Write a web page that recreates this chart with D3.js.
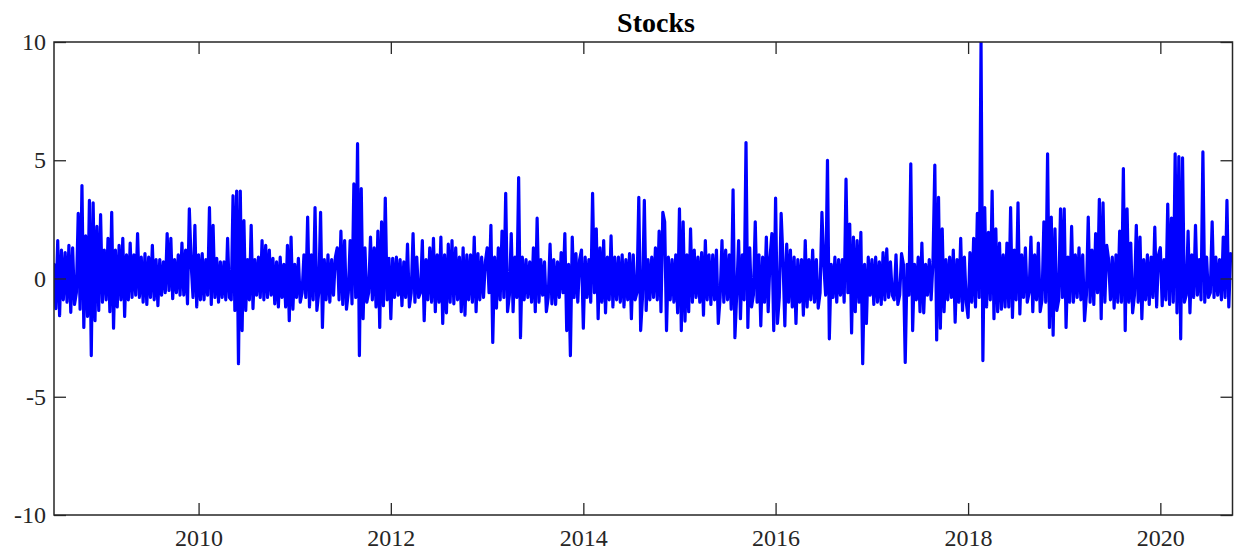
<!DOCTYPE html>
<html>
<head>
<meta charset="utf-8">
<script src="https://cdn.jsdelivr.net/npm/d3@7"></script>
<style>
  html, body { margin: 0; padding: 0; background: #ffffff; }
  svg { display: block; }
  .axis text { font-family: "Liberation Serif", "Times New Roman", serif; font-size: 24px; fill: #262626; }
  .axis line { stroke: #262626; stroke-width: 1.3; }
  .axis path { display: none; }
</style>
</head>
<body>
<svg id="chart" width="1239" height="556"></svg>
<script>
// Weekly stock returns (%), one array per calendar year.
// 2008 covers July–December, 2020 covers January–September.
const ret2008 = [0.6,-1.27,1.6,-1.57,1.2,-0.9,1.1,-1.0,1.4,-1.43,1.3,-1.1,-0.6,2.75,-1.3,3.93,-2.07,1.8,-1.6,3.3,-3.26,3.2,-1.78,2.2,-1.35,2.7];
const ret2009 = [-1.0,1.2,-0.9,1.7,-1.4,2.8,-2.1,1.2,-1.2,1.4,-0.9,1.7,-1.6,1.0,-0.9,1.5,-0.8,1.0,-0.7,1.9,-0.8,0.9,-1.0,1.05,-1.1,0.9,-0.8,1.4,-0.9,0.8,-1.15,0.8,-0.7,0.7,-0.6,1.9,-0.5,1.7,-0.85,0.8,-0.6,1.0,-0.7,1.5,-0.7,1.2,-1.07,2.95,0.6,-0.8,2.25,-1.2];
const ret2010 = [1.0,-0.9,1.05,-0.9,0.8,-0.7,3.0,-1.1,2.25,-0.8,0.85,-1.0,0.7,-0.8,0.7,-0.9,1.7,-0.8,-0.9,3.5,-1.35,3.7,-3.6,3.7,-2.2,2.45,-1.35,0.8,-0.9,2.25,-1.27,0.8,-0.7,0.9,-0.8,1.6,-0.9,1.4,-0.8,1.2,-0.7,0.85,-1.07,0.7,-1.2,0.9,-0.8,0.6,-1.2,1.4,-1.78,1.75,-1.3];
const ret2011 = [0.6,-0.8,0.85,-1.0,-0.6,1.0,-0.8,2.6,-1.2,1.0,-0.9,3.0,-1.35,-0.6,2.8,-2.07,0.8,-0.9,1.0,-1.0,0.8,-0.7,0.9,1.3,-0.9,2.0,-1.1,1.6,-1.3,-0.6,1.6,-1.07,4.0,-0.8,5.7,-3.26,3.8,-1.7,1.3,-1.0,-0.6,1.75,-0.9,1.3,-1.2,2.0,-2.07,2.4,-1.15,3.4,-0.9,0.85];
const ret2012 = [-1.7,0.85,-0.8,0.9,-0.7,0.8,-1.15,0.7,-0.8,1.45,-1.2,-0.6,1.9,-1.0,0.9,-0.8,-0.6,1.6,-1.78,0.8,-0.9,1.3,-1.0,1.7,-1.4,1.0,-1.0,1.75,-1.9,1.0,-1.45,1.45,-1.0,1.6,-1.07,1.3,-0.9,0.9,-1.4,1.3,-1.55,1.0,-0.9,1.0,-1.0,1.75,-1.4,1.05,-0.9,0.9,-0.8,0.7];
const ret2013 = [1.3,-0.6,2.25,-2.7,0.9,-1.25,1.3,-0.9,2.0,-0.8,3.6,-1.4,-0.7,1.9,-1.4,0.9,-0.8,4.27,-2.5,0.9,-0.9,0.8,-0.8,0.7,-1.0,1.3,-1.4,2.55,-1.0,0.8,-0.7,0.7,-1.4,-0.8,1.45,-1.07,0.8,-1.1,0.7,-0.8,1.1,-0.6,1.9,-2.2,0.6,-3.26,1.75,-0.8,1.05,-1.0,0.8,1.2];
const ret2014 = [-2.1,0.9,-0.8,0.8,-1.0,3.6,-0.6,2.1,-1.7,1.3,-1.0,1.6,-1.45,0.9,-0.9,1.8,-1.2,0.9,-0.9,0.9,-1.0,1.0,-1.2,0.8,-0.9,1.05,-1.7,1.0,-0.9,-0.6,3.43,-2.2,-0.8,3.3,-1.35,0.8,-0.9,0.9,-0.8,1.3,-0.9,2.0,-1.4,2.8,2.4,-2.2,0.9,-0.9,0.8,-1.0,1.0,-1.45];
const ret2015 = [2.95,-2.2,2.4,-1.8,1.0,-1.4,2.1,-1.0,1.2,-0.8,0.9,-1.0,1.1,-1.55,1.6,-0.9,1.0,-1.1,1.0,-0.9,1.2,-1.9,-0.8,1.6,-1.0,1.2,-0.9,1.0,-1.3,3.75,-2.5,-0.6,1.6,-1.7,1.0,-0.9,5.75,-2.07,1.3,-1.2,-0.7,2.4,-1.0,1.0,-2.0,0.9,-1.0,1.75,-1.4,0.9,1.9,-2.2];
const ret2016 = [3.4,-1.9,-0.8,2.75,0.8,-2.0,1.45,-1.0,1.2,-1.2,0.9,-1.9,0.8,-1.0,0.8,-1.55,1.6,-1.2,0.8,-0.9,1.2,-1.0,0.8,-1.25,-0.6,2.8,0.6,-0.7,5.0,-2.55,0.6,-0.8,0.9,-1.0,0.8,-0.7,0.8,-1.0,4.2,-0.6,2.3,-2.3,1.75,-1.4,1.6,-1.0,1.95,-3.6,0.6,-1.9,0.9,-0.7];
const ret2017 = [0.8,-1.1,0.9,-1.0,0.7,-1.1,1.1,-0.9,1.25,-0.8,0.7,-0.7,-0.9,1.0,-1.1,-0.7,1.05,0.6,-3.55,0.6,-0.7,4.85,-2.2,0.6,-0.9,0.9,-1.4,1.5,-1.45,0.6,-0.7,0.8,-0.9,0.7,4.8,-2.6,3.43,-2.1,2.1,-1.4,0.8,-0.9,0.9,-0.8,1.2,-1.85,0.8,-1.0,1.7,-1.35,0.9,-1.0];
const ret2018 = [-1.65,1.1,-1.0,1.7,-1.2,2.75,-0.8,10.0,-3.47,3.0,-1.2,1.95,-0.9,3.7,-1.7,2.1,-1.4,1.5,-1.3,1.0,-1.2,1.5,-1.2,3.0,-1.65,1.2,-0.9,3.2,-1.5,1.0,-0.8,1.3,-1.0,-0.6,1.75,-1.4,1.0,-0.9,1.5,-1.4,-0.9,2.4,-1.0,5.27,-2.07,2.6,-2.4,2.1,-1.35,-0.9,2.95,-0.8];
const ret2019 = [2.95,-2.07,0.9,-1.0,2.2,-1.0,1.0,-0.8,1.3,-0.9,1.0,-1.78,-0.7,2.6,-1.0,1.2,-1.1,1.9,-0.6,3.35,-1.7,3.2,-1.0,1.4,0.8,-0.9,0.9,-1.25,1.0,-1.0,2.0,-1.0,4.65,-2.2,2.95,-1.0,1.5,-1.45,-0.7,2.25,-1.0,1.75,-1.7,0.8,-0.9,1.0,-1.1,0.9,-0.8,2.17,-1.2,1.0];
const ret2020 = [1.3,-1.15,0.8,-0.9,3.15,-1.1,2.55,-1.0,5.27,-1.45,5.15,-2.55,5.1,-1.0,-0.7,2.0,-1.45,1.0,-0.8,2.25,-0.7,0.8,-0.9,5.35,-1.0,0.9,-0.8,-0.6,2.4,-0.8,0.9,-0.7,0.8,-0.9,1.75,-0.8,3.3,-1.2,1.05];

const yearly = [
  { year: 2008, values: ret2008 }, { year: 2009, values: ret2009 },
  { year: 2010, values: ret2010 }, { year: 2011, values: ret2011 },
  { year: 2012, values: ret2012 }, { year: 2013, values: ret2013 },
  { year: 2014, values: ret2014 }, { year: 2015, values: ret2015 },
  { year: 2016, values: ret2016 }, { year: 2017, values: ret2017 },
  { year: 2018, values: ret2018 }, { year: 2019, values: ret2019 },
  { year: 2020, values: ret2020 }
];

const seriesStart = new Date(2008, 6, 1);
const seriesEnd = new Date(2020, 9, 1);
const yTickValues = [-10, -5, 0, 5, 10];
const xTickYears = [2010, 2012, 2014, 2016, 2018, 2020];
const chartTitle = "Stocks";

// Spread each year's weekly values evenly over the span they cover.
const points = [];
yearly.forEach(({ year, values }) => {
  const s = year === 2008 ? seriesStart : new Date(year, 0, 1);
  const e = year === 2020 ? seriesEnd : new Date(year + 1, 0, 1);
  const n = values.length;
  values.forEach((v, i) => {
    points.push({ date: new Date(+s + (e - s) * i / n), value: v });
  });
});

const svg = d3.select("#chart");
const plot = { left: 54, right: 1232.5, top: 42, bottom: 515 };

const x = d3.scaleTime().domain([seriesStart, seriesEnd]).range([plot.left, plot.right]);
const y = d3.scaleLinear().domain([-10, 10]).range([plot.bottom, plot.top]);

svg.append("rect").attr("width", 1239).attr("height", 556).attr("fill", "#ffffff");

svg.append("clipPath").attr("id", "plot-clip")
  .append("rect")
  .attr("x", plot.left).attr("y", plot.top)
  .attr("width", plot.right - plot.left).attr("height", plot.bottom - plot.top);

// Return series
const line = d3.line().x(d => x(d.date)).y(d => y(d.value));
svg.append("path")
  .datum(points)
  .attr("clip-path", "url(#plot-clip)")
  .attr("fill", "none")
  .attr("stroke", "#0000ff")
  .attr("stroke-width", 3.2)
  .attr("stroke-linejoin", "round")
  .attr("stroke-linecap", "round")
  .attr("d", line);

// Axes with inward ticks on all four sides
const fmt = d => String(d);
svg.append("g").attr("class", "axis")
  .attr("transform", `translate(${plot.left},0)`)
  .call(d3.axisLeft(y).tickValues(yTickValues).tickFormat(fmt).tickSize(-12).tickSizeOuter(0).tickPadding(8));
svg.append("g").attr("class", "axis")
  .attr("transform", `translate(${plot.right},0)`)
  .call(d3.axisRight(y).tickValues(yTickValues).tickFormat("").tickSize(-12).tickSizeOuter(0));
svg.append("g").attr("class", "axis")
  .attr("transform", `translate(0,${plot.bottom})`)
  .call(d3.axisBottom(x).tickValues(xTickYears.map(yr => new Date(yr, 0, 1)))
    .tickFormat(d3.timeFormat("%Y")).tickSize(-12).tickSizeOuter(0).tickPadding(14));
svg.append("g").attr("class", "axis")
  .attr("transform", `translate(0,${plot.top})`)
  .call(d3.axisTop(x).tickValues(xTickYears.map(yr => new Date(yr, 0, 1)))
    .tickFormat("").tickSize(-12).tickSizeOuter(0));

// Axes box
svg.append("rect")
  .attr("x", plot.left).attr("y", plot.top)
  .attr("width", plot.right - plot.left).attr("height", plot.bottom - plot.top)
  .attr("fill", "none").attr("stroke", "#262626").attr("stroke-width", 1.5);

// Title
svg.append("text")
  .attr("x", 656).attr("y", 32)
  .attr("text-anchor", "middle")
  .attr("font-family", "'Liberation Serif', 'Times New Roman', serif")
  .attr("font-size", 28)
  .attr("font-weight", "bold")
  .attr("fill", "#000000")
  .text(chartTitle);
</script>
</body>
</html>
